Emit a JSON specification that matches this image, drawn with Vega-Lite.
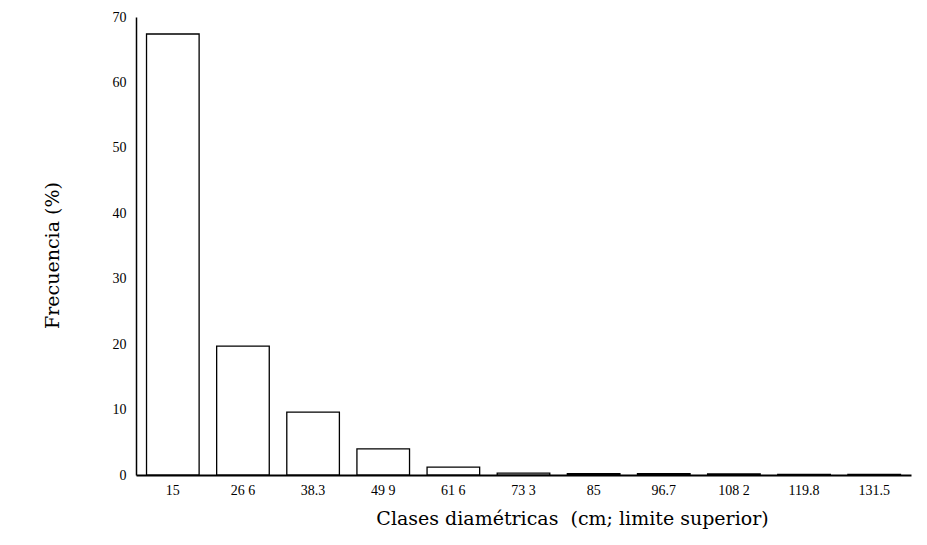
{
  "$schema": "https://vega.github.io/schema/vega-lite/v6.json",
  "autosize": "none",
  "width": 775,
  "height": 458,
  "padding": {"left": 136, "top": 17, "right": 16, "bottom": 70},
  "background": "white",
  "config": {
    "view": {"stroke": null},
    "font": "Liberation Serif"
  },
  "data": {
    "values": [
      {"clase": "15", "frecuencia": 67.4},
      {"clase": "26 6", "frecuencia": 19.7},
      {"clase": "38.3", "frecuencia": 9.6},
      {"clase": "49 9", "frecuencia": 4.0},
      {"clase": "61 6", "frecuencia": 1.2},
      {"clase": "73 3", "frecuencia": 0.3},
      {"clase": "85", "frecuencia": 0.2},
      {"clase": "96.7", "frecuencia": 0.2},
      {"clase": "108 2", "frecuencia": 0.15},
      {"clase": "119.8", "frecuencia": 0.1},
      {"clase": "131.5", "frecuencia": 0.1}
    ]
  },
  "mark": {"type": "bar", "fill": "white", "stroke": "black", "strokeWidth": 1.3},
  "encoding": {
    "x": {
      "field": "clase",
      "type": "nominal",
      "sort": null,
      "scale": {"paddingInner": 0.25, "paddingOuter": 0.15},
      "axis": {
        "title": "Clases diamétricas \u00a0(cm; limite superior)",
        "labelAngle": 0,
        "labelFontSize": 14,
        "labelColor": "black",
        "labelPadding": 8,
        "ticks": false,
        "domainColor": "black",
        "domainWidth": 2,
        "titleFont": "DejaVu Serif",
        "titleFontSize": 19,
        "titleFontWeight": "normal",
        "titleColor": "black",
        "titlePadding": 12,
        "titleX": 436
      }
    },
    "y": {
      "field": "frecuencia",
      "type": "quantitative",
      "scale": {"domain": [0, 70], "nice": false},
      "axis": {
        "title": "Frecuencia (%)",
        "values": [0, 10, 20, 30, 40, 50, 60, 70],
        "grid": false,
        "ticks": false,
        "labelFontSize": 14,
        "labelColor": "black",
        "labelPadding": 10,
        "domainColor": "black",
        "domainWidth": 1.5,
        "titleFont": "DejaVu Serif",
        "titleFontSize": 19,
        "titleFontWeight": "normal",
        "titleColor": "black",
        "titlePadding": 50,
        "titleY": 238
      }
    }
  }
}
